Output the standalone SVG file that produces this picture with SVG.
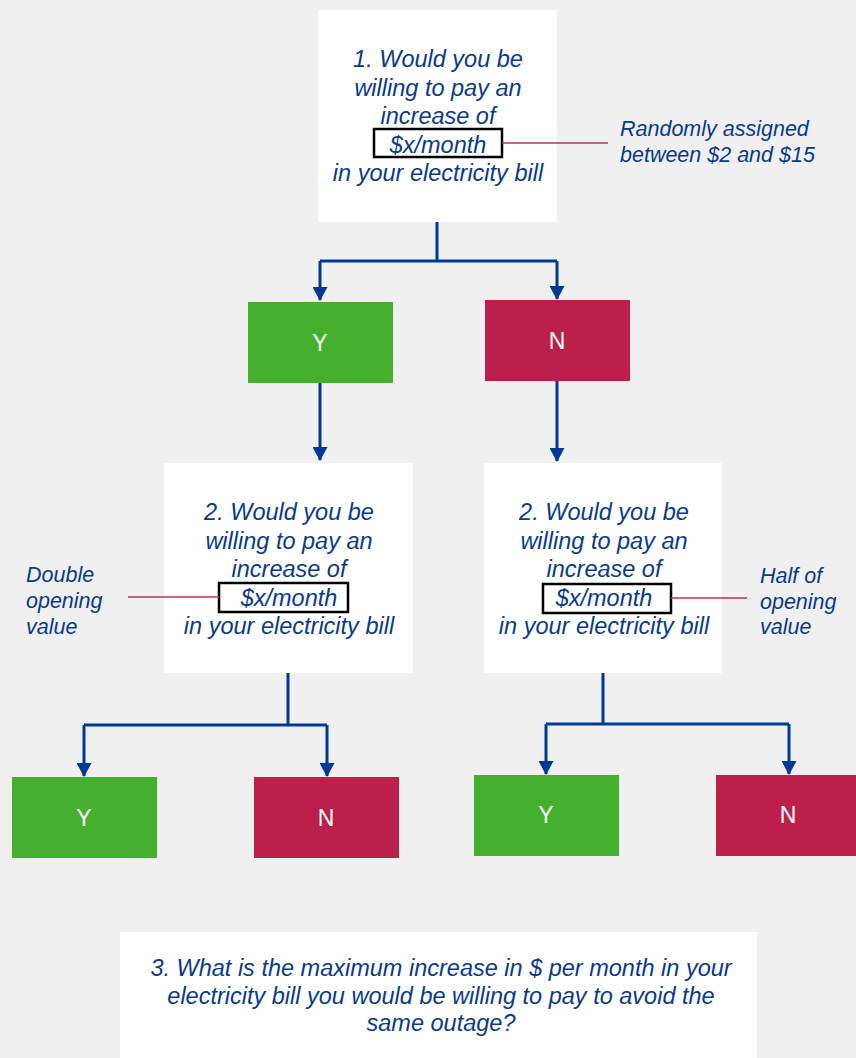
<svg xmlns="http://www.w3.org/2000/svg" width="856" height="1058" viewBox="0 0 856 1058">
<defs>
<style>
.q{fill:#ffffff}
.t{font-family:"Liberation Sans",Arial,sans-serif;font-style:italic;fill:#0a3a8c;text-anchor:middle;font-size:23.5px}
.a{font-family:"Liberation Sans",Arial,sans-serif;font-style:italic;fill:#0a3a8c;font-size:21.5px}
.yn{font-family:"Liberation Sans",Arial,sans-serif;fill:#ffffff;text-anchor:middle;font-size:23px}
.y{fill:#45b02d}
.n{fill:#bd1f4b}
.c{fill:none;stroke:#003a96;stroke-width:3}
.hl{fill:none;stroke:#000000;stroke-width:2.5}
.rl{stroke:#b8325a;stroke-width:1.3}
</style>
<marker id="ah" viewBox="0 0 14 15" refX="13" refY="7.5" markerWidth="14" markerHeight="15" markerUnits="userSpaceOnUse" orient="auto">
<path d="M0,0 L14,7.5 L0,15 Z" fill="#003a96"/>
</marker>
</defs>
<rect width="856" height="1058" fill="#f0f0f0"/>
<g id="connectors">
<path class="c" d="M437,222 V261 M320,261 H557"/>
<path class="c" d="M320,261 V300" marker-end="url(#ah)"/>
<path class="c" d="M557,261 V299" marker-end="url(#ah)"/>
<path class="c" d="M320,383 V460" marker-end="url(#ah)"/>
<path class="c" d="M557,381 V461" marker-end="url(#ah)"/>
<path class="c" d="M288,673 V725 M84,725 H327"/>
<path class="c" d="M84,725 V776" marker-end="url(#ah)"/>
<path class="c" d="M327,725 V776" marker-end="url(#ah)"/>
<path class="c" d="M603,673 V724 M546,724 H789"/>
<path class="c" d="M546,724 V774" marker-end="url(#ah)"/>
<path class="c" d="M789,724 V774" marker-end="url(#ah)"/>
</g>
<g id="q1">
<rect class="q" x="318" y="10" width="239" height="212"/>
<text class="t" x="438" y="67">1. Would you be</text>
<text class="t" x="438" y="96">willing to pay an</text>
<text class="t" x="438" y="124">increase of</text>
<rect class="hl" x="374" y="129" width="128" height="28"/>
<text class="t" x="438" y="153">$x/month</text>
<text class="t" x="438" y="181">in your electricity bill</text>
</g>
<g id="note1">
<line class="rl" x1="502" y1="143" x2="608" y2="143"/>
<text class="a" x="620" y="136">Randomly assigned</text>
<text class="a" x="620" y="162">between $2 and $15</text>
</g>
<g id="y1"><rect class="y" x="248" y="302" width="145" height="81"/><text class="yn" x="320" y="351">Y</text></g>
<g id="n1"><rect class="n" x="485" y="300" width="145" height="81"/><text class="yn" x="557" y="349">N</text></g>
<g id="q2left">
<rect class="q" x="164" y="463" width="249" height="210"/>
<text class="t" x="289" y="520">2. Would you be</text>
<text class="t" x="289" y="549">willing to pay an</text>
<text class="t" x="289" y="577">increase of</text>
<rect class="hl" x="219" y="583" width="129" height="29"/>
<text class="t" x="289" y="606">$x/month</text>
<text class="t" x="289" y="634">in your electricity bill</text>
</g>
<g id="note2">
<line class="rl" x1="128" y1="597" x2="219" y2="597"/>
<text class="a" x="26" y="582">Double</text>
<text class="a" x="26" y="608">opening</text>
<text class="a" x="26" y="634">value</text>
</g>
<g id="q2right">
<rect class="q" x="484" y="463" width="238" height="210"/>
<text class="t" x="604" y="520">2. Would you be</text>
<text class="t" x="604" y="549">willing to pay an</text>
<text class="t" x="604" y="577">increase of</text>
<rect class="hl" x="543" y="584" width="128" height="29"/>
<text class="t" x="604" y="606">$x/month</text>
<text class="t" x="604" y="634">in your electricity bill</text>
</g>
<g id="note3">
<line class="rl" x1="671" y1="598" x2="747" y2="598"/>
<text class="a" x="760" y="583">Half of</text>
<text class="a" x="760" y="609">opening</text>
<text class="a" x="760" y="634">value</text>
</g>
<g id="y2"><rect class="y" x="12" y="777" width="145" height="81"/><text class="yn" x="84" y="826">Y</text></g>
<g id="n2"><rect class="n" x="254" y="777" width="145" height="81"/><text class="yn" x="326" y="826">N</text></g>
<g id="y3"><rect class="y" x="474" y="775" width="145" height="81"/><text class="yn" x="546" y="823">Y</text></g>
<g id="n3"><rect class="n" x="716" y="775" width="140" height="81"/><text class="yn" x="788" y="823">N</text></g>
<g id="q3">
<rect class="q" x="120" y="932" width="637" height="126"/>
<text class="t" x="441" y="976">3. What is the maximum increase in $ per month in your</text>
<text class="t" x="441" y="1004">electricity bill you would be willing to pay to avoid the</text>
<text class="t" x="441" y="1031">same outage?</text>
</g>
</svg>
